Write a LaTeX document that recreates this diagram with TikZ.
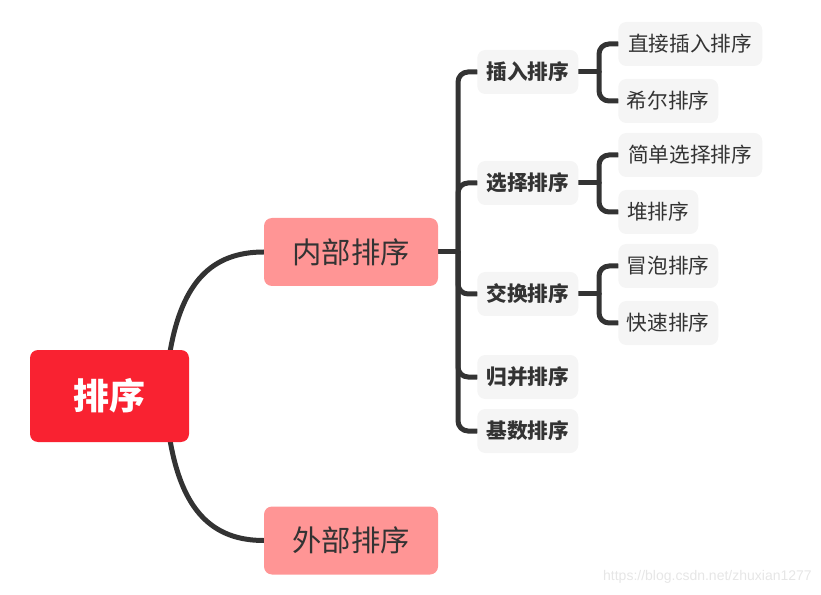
\documentclass[tikz,border=0pt]{standalone}
\usepackage{fontspec}
\newfontfamily\cjk{Noto Sans CJK SC}
\newfontfamily\wm{Liberation Sans}
\usetikzlibrary{backgrounds}
\definecolor{rootred}{HTML}{F92231}
\definecolor{pinkbox}{HTML}{FF9595}
\definecolor{greybox}{HTML}{F5F5F5}
\definecolor{ink}{HTML}{333333}
\definecolor{wmgrey}{HTML}{E6E6E6}
\tikzset{
  rootbox/.style={fill=rootred, rounded corners=6pt, text=white, font=\cjk\bfseries\fontsize{27}{30}\selectfont,
    minimum width=119.25pt, minimum height=69pt, inner sep=0pt},
  midbox/.style={fill=pinkbox, rounded corners=6pt, text=ink, font=\cjk\fontsize{22}{26}\selectfont,
    minimum width=130.5pt, minimum height=51pt, inner sep=0pt},
  subbox/.style={fill=greybox, rounded corners=6pt, text=ink, font=\cjk\bfseries\fontsize{15.5}{18}\selectfont,
    minimum width=75.75pt, minimum height=33pt, inner sep=0pt, anchor=west},
  leafbox/.style={fill=greybox, rounded corners=6pt, text=ink, font=\cjk\fontsize{15.5}{18}\selectfont,
    minimum height=33pt, inner sep=0pt, anchor=west},
  link/.style={draw=ink, line width=3.75pt, line cap=round},
  bracket/.style={link, rounded corners=7.5pt}
}
\begin{document}
\begin{tikzpicture}[x=0.75pt, y=-0.75pt]
\useasboundingbox (0,0) rectangle (821,595);
% nodes
\node[rootbox] (root) at (109.5,396) {排序};
\node[midbox] (inner) at (351,252) {内部排序};
\node[midbox] (outer) at (351,540.5) {外部排序};
\node[subbox] (c1) at (477,72) {插入排序};
\node[subbox] (c2) at (477,183) {选择排序};
\node[subbox] (c3) at (477,294) {交换排序};
\node[subbox] (c4) at (477,377) {归并排序};
\node[subbox] (c5) at (477,431) {基数排序};
\node[leafbox, minimum width=108pt] (d1) at (618,44) {直接插入排序};
\node[leafbox, minimum width=75pt] (d2) at (618,101) {希尔排序};
\node[leafbox, minimum width=108pt] (d3) at (618,155) {简单选择排序};
\node[leafbox, minimum width=60pt] (d4) at (618,212) {堆排序};
\node[leafbox, minimum width=75pt] (d5) at (618,266) {冒泡排序};
\node[leafbox, minimum width=75pt] (d6) at (618,323) {快速排序};
\node[font=\wm\fontsize{10.5}{12}\selectfont, text=wmgrey, anchor=east, inner sep=0pt] (wmark) at (812,577) {https://blog.csdn.net/zhuxian1277};
% junction coordinates
\coordinate (rtop) at (170,352);
\coordinate (rbot) at (170,440);
\coordinate (j0) at (458,252);
\coordinate (j1) at (599,72);
\coordinate (j2) at (599,183);
\coordinate (j3) at (599,294);
\begin{pgfonlayer}{background}
\draw[link] (rtop) .. controls (182,282) and (212,252) .. (inner.west);
\draw[link] (rbot) .. controls (182,510) and (212,540.5) .. (outer.west);
\draw[link] (inner.east) -- (j0);
\foreach \c in {c1,c2,c3,c4,c5}{
  \draw[bracket] (j0) -- (j0 |- \c.west) -- (\c.west);
}
\draw[link] (c1.east) -- (j1);
\draw[link] (c2.east) -- (j2);
\draw[link] (c3.east) -- (j3);
\draw[bracket] (j1) -- (j1 |- d1.west) -- (d1.west);
\draw[bracket] (j1) -- (j1 |- d2.west) -- (d2.west);
\draw[bracket] (j2) -- (j2 |- d3.west) -- (d3.west);
\draw[bracket] (j2) -- (j2 |- d4.west) -- (d4.west);
\draw[bracket] (j3) -- (j3 |- d5.west) -- (d5.west);
\draw[bracket] (j3) -- (j3 |- d6.west) -- (d6.west);
\end{pgfonlayer}
\end{tikzpicture}
\end{document}
